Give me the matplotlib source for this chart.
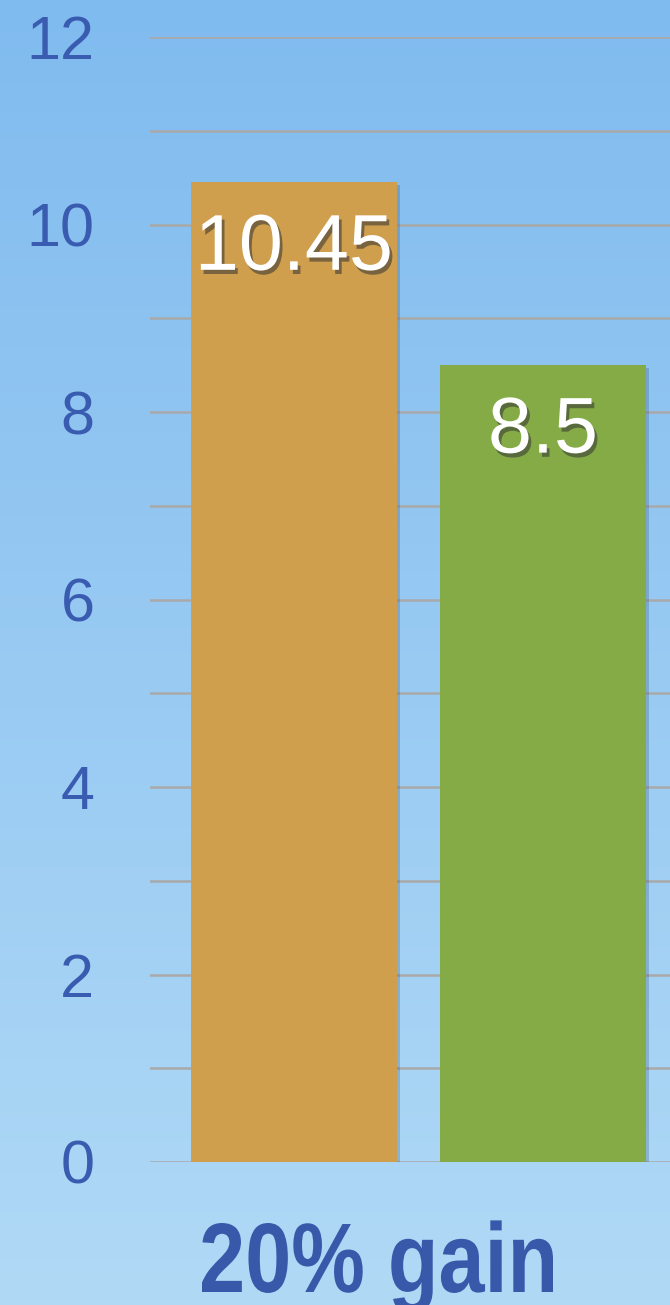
import numpy as np
import matplotlib.pyplot as plt
import matplotlib.patheffects as pe
from matplotlib.textpath import TextPath
from matplotlib.patches import PathPatch
from matplotlib.font_manager import FontProperties
from matplotlib.transforms import Affine2D, IdentityTransform

# chart values
categories = ['20% gain']
series_names = ['before', 'after']
values = [10.45, 8.5]
bar_colors = ['#cf9f4e', '#85ab47']
yticks = [0, 2, 4, 6, 8, 10, 12]

W, H = 670, 1305
fig = plt.figure(figsize=(W / 100, H / 100), dpi=100)

# background gradient, darker blue on top
bg = fig.add_axes([0, 0, 1, 1], zorder=0)
top = np.array([0x80, 0xbb, 0xef]) / 255
bottom = np.array([0xb0, 0xd9, 0xf6]) / 255
t = np.linspace(0, 1, 256)[:, None]
grad = top * (1 - t) + bottom * t
bg.imshow(grad[:, None, :], aspect='auto', extent=[0, 1, 0, 1])
bg.axis('off')

ax = fig.add_axes([150 / W, 1 - 1162 / H, 520 / W, (1162 - 37) / H], zorder=1)
ax.patch.set_alpha(0)

x = np.arange(len(values))
bars = ax.bar(x, values, width=0.83, color=bar_colors, zorder=3)
for b in bars:
    b.set_path_effects([pe.SimplePatchShadow(offset=(2, -2), shadow_rgbFace='#2a4a70', alpha=0.25), pe.Normal()])

# value labels inside the bars
shadow = [pe.SimplePatchShadow(offset=(2, -3), shadow_rgbFace='#333333', alpha=0.55), pe.Normal()]
for xi, v in zip(x, values):
    ax.annotate(f'{v:g}', xy=(xi, v), xytext=(0, -63), textcoords='offset points',
                ha='center', va='baseline', color='white', fontsize=57,
                family='Liberation Sans', zorder=4, path_effects=shadow)

ax.set_ylim(0, 12)
ax.set_xlim(-0.578, 1.51)
ax.set_yticks(yticks)
ax.set_yticks(np.arange(1, 12, 2), minor=True)
ax.grid(axis='y', which='both', color='#a9a9a9', linewidth=1.8, zorder=1)
ax.set_axisbelow(True)
ax.set_xticks([])
ax.tick_params(axis='y', which='both', length=0, pad=40, labelsize=44, labelcolor='#3a5cb0')
for lab in ax.get_yticklabels():
    lab.set_family('Liberation Sans')
for s in ax.spines.values():
    s.set_visible(False)

# category label below the bars: bold, squeezed sideways like a condensed face
tp = TextPath((0, 0), categories[0], size=96,
              prop=FontProperties(family='Liberation Sans', weight='bold'))
ext = tp.get_extents()
cap = TextPath((0, 0), '2', size=96, prop=FontProperties(family='Liberation Sans', weight='bold')).get_extents()
sy = 69 / cap.height
sx = 351 / ext.width
tr = Affine2D().translate(-ext.x0, 0).scale(sx, sy).translate(202, H - 1292)
label = PathPatch(tr.transform_path(tp), facecolor='#3858aa', edgecolor='none',
                  transform=IdentityTransform(), zorder=5)
fig.add_artist(label)

fig.savefig('out.png', dpi=100)
